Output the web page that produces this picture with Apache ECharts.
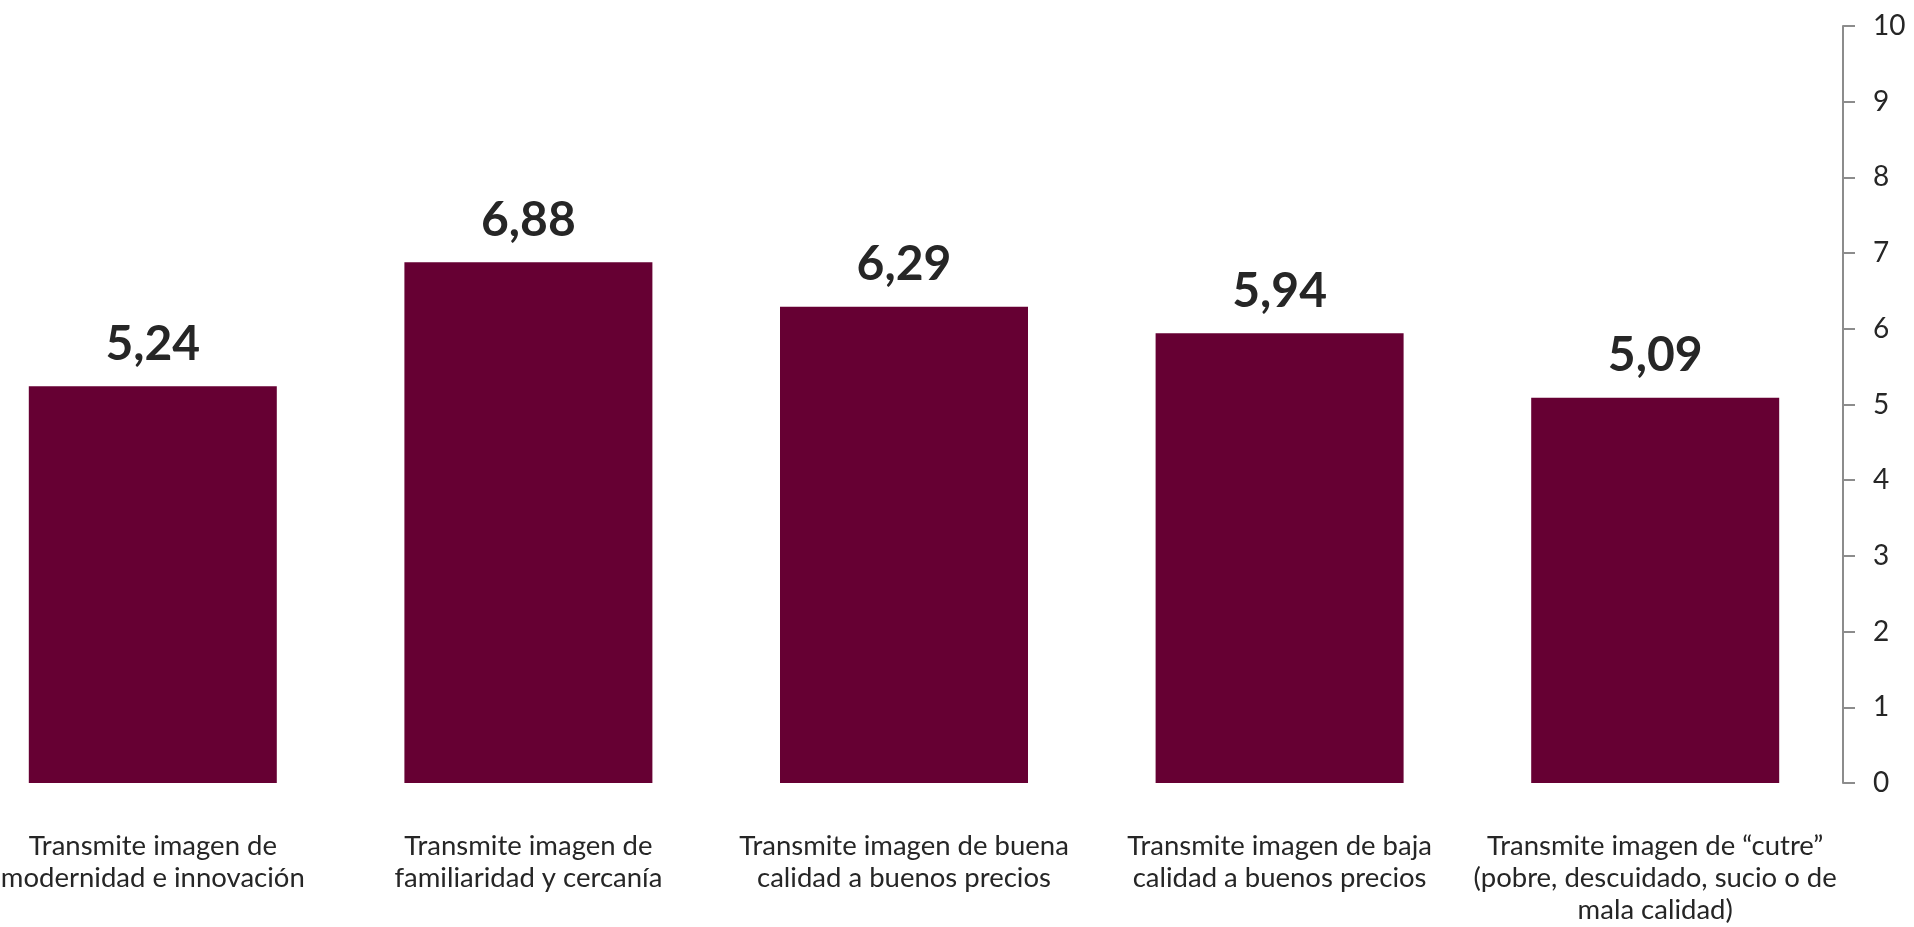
<!DOCTYPE html>
<html>
<head>
<meta charset="utf-8">
<script src="https://cdn.jsdelivr.net/npm/echarts@6/dist/echarts.min.js"></script>
<style>
  html, body { margin: 0; padding: 0; background: #fff; overflow: hidden; }
  /* chart is shifted left so the first category slot starts off-screen, like the original */
  #chart { position: absolute; left: -35px; top: 0; width: 1949px; height: 927px; }
</style>
</head>
<body>
<div id="chart"></div>
<script>
const categories = [
  'Transmite imagen de\nmodernidad e innovación',
  'Transmite imagen de\nfamiliaridad y cercanía',
  'Transmite imagen de buena\ncalidad a buenos precios',
  'Transmite imagen de baja\ncalidad a buenos precios',
  'Transmite imagen de “cutre”\n(pobre, descuidado, sucio o de\nmala calidad)'
];
const values = [5.24, 6.88, 6.29, 5.94, 5.09];
const yTicks = { min: 0, max: 10, interval: 1 };

const chart = echarts.init(document.getElementById('chart'));

chart.setOption({
  animation: false,
  textStyle: { fontFamily: 'Lato' },
  grid: { left: 0, right: 71, top: 26, bottom: 144 },
  xAxis: {
    type: 'category',
    data: categories,
    axisLine: { show: false },
    axisTick: { show: false },
    axisLabel: {
      interval: 0,
      margin: 47,
      fontSize: 27.5,
      lineHeight: 32,
      color: '#262626',
      fontFamily: 'Lato'
    }
  },
  yAxis: {
    type: 'value',
    position: 'right',
    min: yTicks.min,
    max: yTicks.max,
    interval: yTicks.interval,
    splitLine: { show: false },
    axisLine: { show: true, lineStyle: { color: '#8c8c8c', width: 2 } },
    axisTick: { show: true, length: 12, lineStyle: { color: '#8c8c8c', width: 2 } },
    axisLabel: {
      margin: 30,
      fontSize: 28,
      color: '#262626',
      fontFamily: 'Lato'
    }
  },
  series: [
    {
      type: 'bar',
      data: values,
      barWidth: 248,
      itemStyle: { color: '#660033' },
      label: {
        show: true,
        position: 'top',
        distance: 18,
        fontSize: 48,
        fontWeight: 'bold',
        color: '#262626',
        fontFamily: 'Lato',
        formatter: (p) => p.value.toFixed(2).replace('.', ',')
      }
    }
  ]
});

window.onresize = function () {
  chart.resize();
};
</script>
</body>
</html>
